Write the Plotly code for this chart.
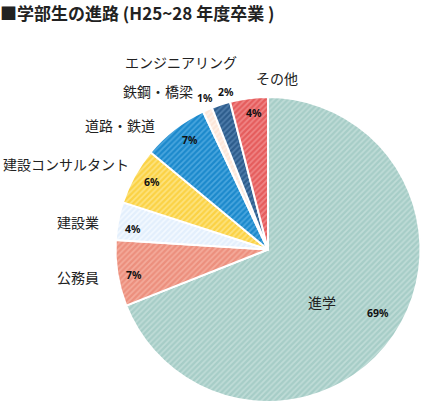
import plotly.graph_objects as go

# ---- data ----
categories = ["進学", "公務員", "建設業", "建設コンサルタント", "道路・鉄道", "鉄鋼・橋梁", "エンジニアリング", "その他"]
values = [69, 7, 4, 6, 7, 1, 2, 4]

# ---- styles ----
base_colors = ["#a6cdc7", "#ec8f7d", "#e3effc", "#fbd244", "#1b89cc", "#fde6d8", "#2c5c8c", "#e55c5c"]
stripe_colors = ["#bfdcd7", "#f4ab9b", "#f3f9ff", "#fde37f", "#4aa6de", "#fff2ea", "#4f7dab", "#f08686"]

W, H = 426, 407
cx, cy, r = 268, 249.5, 152.5

fig = go.Figure(go.Pie(
    labels=categories,
    values=values,
    sort=False,
    direction="clockwise",
    rotation=0,
    textinfo="none",
    hoverinfo="label+percent",
    marker=dict(
        colors=base_colors,
        line=dict(color="white", width=2),
        pattern=dict(shape="/", size=4, solidity=0.45,
                     fgcolor=stripe_colors, bgcolor=base_colors, fillmode="replace"),
    ),
    domain=dict(x=[(cx - r) / W, (cx + r) / W], y=[1 - (cy + r) / H, 1 - (cy - r) / H]),
    showlegend=False,
))

# label positions in pixels (name position, percent position)
name_pos = [(322, 302), (78, 277), (78, 222), (66, 164), (120, 125), (158, 91), (181, 62), (277, 78)]
pct_pos = [(378, 313), (134, 275), (133, 229), (152, 182), (190, 140), (205, 98), (226, 92), (254, 113)]

ann = []
for cat, v, (nx, ny), (px, py) in zip(categories, values, name_pos, pct_pos):
    ann.append(dict(x=nx / W, y=1 - ny / H, xref="paper", yref="paper", text=cat,
                    showarrow=False, xanchor="center", yanchor="middle",
                    font=dict(family="Noto Sans CJK JP", size=14, color="#222")))
    ann.append(dict(x=px / W, y=1 - py / H, xref="paper", yref="paper", text=f"<b>{v}%</b>",
                    showarrow=False, xanchor="center", yanchor="middle",
                    font=dict(family="Noto Sans", size=10.5, color="#111")))

ann.append(dict(x=0, y=1 - 13 / H, xref="paper", yref="paper",
                text="<b>■学部生の進路 (H25~28 年度卒業 )</b>", showarrow=False,
                xanchor="left", yanchor="middle", xshift=-2,
                font=dict(family="Noto Sans CJK JP", size=17, color="#222")))

fig.update_layout(
    width=W, height=H,
    margin=dict(l=0, r=0, t=0, b=0),
    paper_bgcolor="white",
    plot_bgcolor="white",
    annotations=ann,
)

fig.write_html("out.html", config={"displayModeBar": False},
               post_script="document.body.style.margin='0';document.body.style.padding='0';")
